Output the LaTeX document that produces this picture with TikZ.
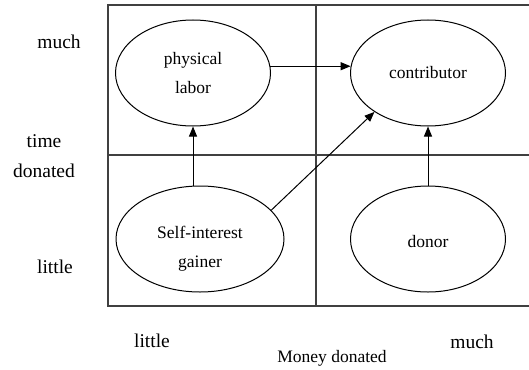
\documentclass[tikz,border=0pt]{standalone}
\usepackage{fontspec}
\setmainfont{Liberation Serif}
\usetikzlibrary{shapes.geometric,arrows.meta}
\tikzset{
  oval/.style={draw=black,ellipse,line width=1pt,inner sep=0pt,align=center,
    minimum width=155pt,minimum height=106pt,font=\fontsize{17.5}{29}\selectfont},
  intext/.style={align=center,font=\fontsize{17.5}{29}\selectfont},
  axis/.style={align=center,font=\fontsize{19.5}{30}\selectfont},
  arr/.style={line width=1pt,-{Triangle[length=10pt,width=8pt]}}
}
\begin{document}
\begin{tikzpicture}[x=1pt,y=-1pt]
\useasboundingbox (0,0) rectangle (529,369);
\draw[black!75,line width=1.5pt] (529,5) -- (108,5) -- (108,306) -- (529,306);
\draw[black!75,line width=1.5pt] (316,5) -- (316,306);
\draw[black!75,line width=1.5pt] (108,155) -- (529,155);
\node[oval] (labor) at (193,73) {physical\\labor};
\node[oval] (contrib) at (428,73) {contributor};
\node[oval,minimum width=168pt,
  label={[intext,yshift=-10pt]center:Self-interest\\gainer}] (gainer) at (200,239) {};
\node[oval,label={[intext,yshift=-3pt]center:donor}] (donor) at (428,239) {};
\node[axis] (much1) at (59,42) {much};
\node[axis] (time) at (44,156) {time\\donated};
\node[axis] (little1) at (55,267) {little};
\node[axis] (little2) at (152,341) {little};
\node[font=\fontsize{17.5}{20}\selectfont] (money) at (332,358) {Money donated};
\node[axis] (much2) at (472,342) {much};
\draw[arr] (gainer.north -| labor.south) -- (labor.south);
\draw[arr] (labor.5) -- (contrib.175);
\draw[arr] (gainer.22) -- (contrib.216);
\draw[arr] (donor.north) -- (contrib.south);
\end{tikzpicture}
\end{document}
